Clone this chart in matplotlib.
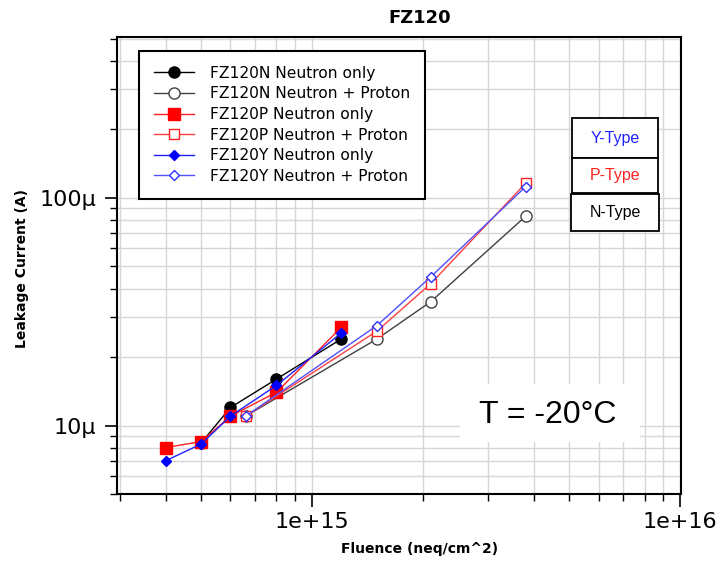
import matplotlib
matplotlib.use("Agg")
import matplotlib.pyplot as plt
from matplotlib.patches import Rectangle
from matplotlib.ticker import LogLocator, FixedLocator, FixedFormatter, NullFormatter

# ---- data ----
n_only_x = [5e14, 6e14, 8e14, 1.2e15]
n_only_y = [8.4e-6, 1.2e-5, 1.6e-5, 2.4e-5]

n_np_x = [6.6e14, 1.5e15, 2.1e15, 3.8e15]
n_np_y = [1.1e-5, 2.4e-5, 3.5e-5, 8.3e-5]

p_only_x = [4e14, 5e14, 6e14, 8e14, 1.2e15]
p_only_y = [8.0e-6, 8.5e-6, 1.1e-5, 1.4e-5, 2.7e-5]

p_np_x = [6.6e14, 1.5e15, 2.1e15, 3.8e15]
p_np_y = [1.1e-5, 2.6e-5, 4.2e-5, 1.16e-4]

y_only_x = [4e14, 5e14, 6e14, 8e14, 1.2e15]
y_only_y = [7.0e-6, 8.3e-6, 1.1e-5, 1.5e-5, 2.55e-5]

y_np_x = [6.6e14, 1.5e15, 2.1e15, 3.8e15]
y_np_y = [1.1e-5, 2.75e-5, 4.5e-5, 1.12e-4]

labels = ["FZ120N Neutron only", "FZ120N Neutron + Proton",
          "FZ120P Neutron only", "FZ120P Neutron + Proton",
          "FZ120Y Neutron only", "FZ120Y Neutron + Proton"]
x_tick_vals = [1e15, 1e16]
x_tick_labels = ["1e+15", "1e+16"]
y_tick_vals = [1e-5, 1e-4]
y_tick_labels = ["10µ", "100µ"]
type_labels = ["Y-Type", "P-Type", "N-Type"]
type_colors = ["#2020ff", "#ff2020", "black"]

W, H = 721, 562
fig = plt.figure(figsize=(W / 100, H / 100), dpi=100)
L, R, T, B = 117, 681, 37, 494
ax = fig.add_axes([L / W, 1 - B / H, (R - L) / W, (B - T) / H])
ax.set_xscale("log")
ax.set_yscale("log")
ax.set_xlim(2.95e14, 1.005e16)
ax.set_ylim(5.0e-6, 5.1e-4)

ax.grid(True, which="both", color="#d6d6d6", linewidth=1.0)
ax.set_axisbelow(True)

ax.plot(n_only_x, n_only_y, color="black", lw=1.0, marker="o", ms=8,
        mfc="black", mec="black", label=labels[0], zorder=3)
ax.plot(n_np_x, n_np_y, color="#404040", lw=1.0, marker="o", ms=8,
        mfc="white", mec="#404040", mew=1.0, label=labels[1], zorder=3)
ax.plot(p_only_x, p_only_y, color="#ff2020", lw=1.0, marker="s", ms=8,
        mfc="#ff0000", mec="#ff0000", label=labels[2], zorder=4)
ax.plot(p_np_x, p_np_y, color="#ff4040", lw=1.0, marker="s", ms=7.5,
        mfc="white", mec="#ff2020", mew=1.0, label=labels[3], zorder=4)
ax.plot(y_only_x, y_only_y, color="#2020ff", lw=1.0, marker="D", ms=5.5,
        mfc="#0000ff", mec="#0000ff", label=labels[4], zorder=5)
ax.plot(y_np_x, y_np_y, color="#5050ff", lw=1.0, marker="D", ms=5,
        mfc="white", mec="#3030ff", mew=1.0, label=labels[5], zorder=5)

ax.xaxis.set_major_locator(FixedLocator(x_tick_vals))
ax.xaxis.set_major_formatter(FixedFormatter(x_tick_labels))
ax.xaxis.set_minor_locator(LogLocator(base=10, subs=range(2, 10)))
ax.xaxis.set_minor_formatter(NullFormatter())
ax.yaxis.set_major_locator(FixedLocator(y_tick_vals))
ax.yaxis.set_major_formatter(FixedFormatter(y_tick_labels))
ax.yaxis.set_minor_locator(LogLocator(base=10, subs=range(2, 10)))
ax.yaxis.set_minor_formatter(NullFormatter())

ax.tick_params(which="major", direction="out", length=9, width=1.2,
               labelsize=16, colors="black")
ax.tick_params(which="minor", direction="out", length=5, width=1.0)
ax.tick_params(axis="y", which="major", pad=6)
ax.tick_params(axis="x", which="major", pad=4)
for sp in ax.spines.values():
    sp.set_linewidth(1.5)

# labels and title
fig.text(420 / W, 1 - 18 / H, "FZ120", ha="center", va="center",
         fontsize=13, fontweight="bold")
fig.text(420 / W, 1 - 549 / H, "Fluence (neq/cm^2)", ha="center", va="center",
         fontsize=10, fontweight="bold")
fig.text(22 / W, 1 - 268 / H, "Leakage Current (A)", ha="center", va="center",
         rotation=90, fontsize=10, fontweight="bold")

# legend
leg = ax.legend(loc="upper left", bbox_to_anchor=(139 / W, 1 - 51 / H),
                bbox_transform=fig.transFigure, fontsize=11.2, frameon=True,
                fancybox=False, edgecolor="black", framealpha=1,
                handlelength=2.6, labelspacing=0.36, borderpad=0.95,
                handletextpad=1.0, borderaxespad=0)
leg.get_frame().set_linewidth(1.5)

# type boxes
boxes = [(572, 118, 86, 40), (572, 158, 86, 35), (571, 194, 88, 37)]
for (bx, by, bw, bh), txt, col in zip(boxes, type_labels, type_colors):
    rect = Rectangle((bx / W, 1 - (by + bh) / H), bw / W, bh / H,
                     transform=fig.transFigure, facecolor="white",
                     edgecolor="black", linewidth=1.3, zorder=10)
    fig.patches.append(rect)
    fig.text((bx + bw / 2) / W, 1 - (by + bh / 2) / H, txt, color=col,
             ha="center", va="center", fontsize=11.5,
             family="Liberation Sans", zorder=11)

# temperature box
trect = Rectangle((460 / W, 1 - 442 / H), 180 / W, 58 / H,
                  transform=fig.transFigure, facecolor="white",
                  edgecolor="none", zorder=10)
fig.patches.append(trect)
fig.text(548 / W, 1 - 415 / H, "T = -20°C", ha="center", va="center",
         fontsize=23, family="Liberation Sans", zorder=11)

fig.savefig("out.png", dpi=100)
